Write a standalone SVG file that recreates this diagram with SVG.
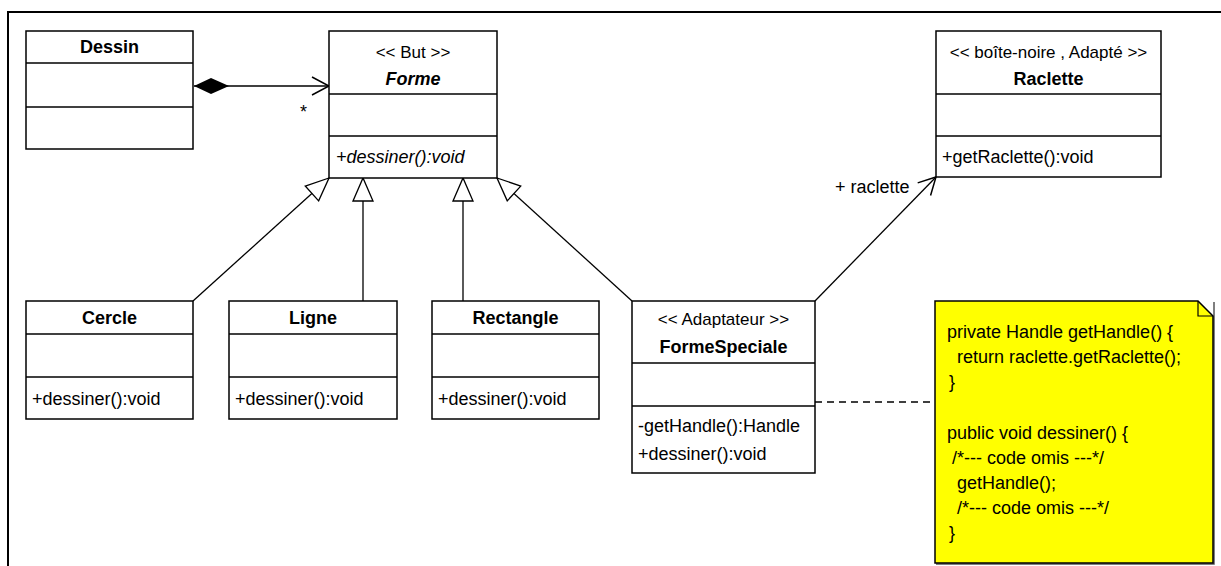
<svg xmlns="http://www.w3.org/2000/svg" width="1221" height="566" viewBox="0 0 1221 566">
  <style>
    .box { fill: #ffffff; stroke: #000000; stroke-width: 1.5; }
    .sep { stroke: #000000; stroke-width: 1.5; }
    .t { font-family: "Liberation Sans", Arial, sans-serif; font-size: 18px; fill: #000000; }
    .name { font-weight: bold; text-anchor: middle; font-size: 18px; }
    .stereo { text-anchor: middle; font-size: 17px; }
    .ital { font-style: italic; }
    .edge { fill: none; stroke: #000000; stroke-width: 1.3; }
    .note { fill: #ffff00; stroke: #000000; stroke-width: 1.5; }
  </style>
  <defs>
    <!-- hollow triangle for generalization -->
    <marker id="gen" markerUnits="userSpaceOnUse" markerWidth="26" markerHeight="26" viewBox="-1 -13 26 26" refX="23" refY="0" orient="auto">
      <path d="M0,-10 L23,0 L0,10 Z" fill="#ffffff" stroke="#000000" stroke-width="1.3"/>
    </marker>
    <!-- open arrow for navigable associations -->
    <marker id="open" markerUnits="userSpaceOnUse" markerWidth="22" markerHeight="22" viewBox="-1 -11 22 22" refX="17" refY="0" orient="auto">
      <path d="M0,-9 L17,0 L0,9" fill="none" stroke="#000000" stroke-width="1.5"/>
    </marker>
    <!-- filled diamond for composition, placed at the start of the line -->
    <marker id="comp" markerUnits="userSpaceOnUse" markerWidth="40" markerHeight="20" viewBox="-1 -10 40 20" refX="0" refY="0" orient="auto">
      <path d="M0,0 L17,-8 L35,0 L17,8 Z" fill="#000000"/>
    </marker>
  </defs>

  <rect width="1221" height="566" fill="#ffffff"/>

  <!-- frame -->
  <path d="M8,566 L8,12 L1221,12" fill="none" stroke="#000000" stroke-width="2"/>

  <!-- connectors -->
  <g id="connectors">
    <line class="edge" x1="194" y1="86" x2="329" y2="86" marker-start="url(#comp)" marker-end="url(#open)"/>
    <text class="t" x="300" y="118" font-size="14">*</text>
    <line class="edge" x1="193" y1="301" x2="329" y2="178" marker-end="url(#gen)"/>
    <line class="edge" x1="363" y1="301" x2="363" y2="178" marker-end="url(#gen)"/>
    <line class="edge" x1="463" y1="301" x2="463" y2="178" marker-end="url(#gen)"/>
    <line class="edge" x1="632" y1="301" x2="497" y2="178" marker-end="url(#gen)"/>
    <line class="edge" x1="815" y1="301" x2="936" y2="177" marker-end="url(#open)"/>
    <text class="t" x="835" y="193" font-size="17">+ raclette</text>
    <line class="edge" x1="815" y1="402" x2="935" y2="402" stroke-dasharray="7,5"/>
  </g>

  <g id="Dessin">
    <rect class="box" x="26" y="31" width="167" height="118"/>
    <line class="sep" x1="26" y1="63" x2="193" y2="63"/>
    <line class="sep" x1="26" y1="107" x2="193" y2="107"/>
    <text class="t name" x="109.5" y="53">Dessin</text>
  </g>

  <g id="Forme">
    <rect class="box" x="329" y="31" width="168" height="147"/>
    <line class="sep" x1="329" y1="94" x2="497" y2="94"/>
    <line class="sep" x1="329" y1="136" x2="497" y2="136"/>
    <text class="t stereo" x="413" y="58">&lt;&lt; But &gt;&gt;</text>
    <text class="t name ital" x="413" y="85">Forme</text>
    <text class="t ital" x="336" y="163">+dessiner():void</text>
  </g>

  <g id="Raclette">
    <rect class="box" x="936" y="31" width="225" height="146"/>
    <line class="sep" x1="936" y1="94" x2="1161" y2="94"/>
    <line class="sep" x1="936" y1="136" x2="1161" y2="136"/>
    <text class="t stereo" x="1048.5" y="58" font-size="18">&lt;&lt; boîte-noire , Adapté &gt;&gt;</text>
    <text class="t name" x="1048.5" y="85">Raclette</text>
    <text class="t" x="942" y="163">+getRaclette():void</text>
  </g>

  <g id="Cercle">
    <rect class="box" x="26" y="301" width="167" height="118"/>
    <line class="sep" x1="26" y1="334" x2="193" y2="334"/>
    <line class="sep" x1="26" y1="377" x2="193" y2="377"/>
    <text class="t name" x="109.5" y="324">Cercle</text>
    <text class="t" x="32" y="405">+dessiner():void</text>
  </g>

  <g id="Ligne">
    <rect class="box" x="229" y="301" width="168" height="118"/>
    <line class="sep" x1="229" y1="334" x2="397" y2="334"/>
    <line class="sep" x1="229" y1="377" x2="397" y2="377"/>
    <text class="t name" x="313" y="324">Ligne</text>
    <text class="t" x="235" y="405">+dessiner():void</text>
  </g>

  <g id="Rectangle">
    <rect class="box" x="432" y="301" width="167" height="118"/>
    <line class="sep" x1="432" y1="334" x2="599" y2="334"/>
    <line class="sep" x1="432" y1="377" x2="599" y2="377"/>
    <text class="t name" x="515.5" y="324">Rectangle</text>
    <text class="t" x="438" y="405">+dessiner():void</text>
  </g>

  <g id="FormeSpeciale">
    <rect class="box" x="632" y="301" width="183" height="172"/>
    <line class="sep" x1="632" y1="363" x2="815" y2="363"/>
    <line class="sep" x1="632" y1="406" x2="815" y2="406"/>
    <text class="t stereo" x="723.5" y="325" font-size="18">&lt;&lt; Adaptateur &gt;&gt;</text>
    <text class="t name" x="723.5" y="353">FormeSpeciale</text>
    <text class="t" x="638" y="432">-getHandle():Handle</text>
    <text class="t" x="638" y="460">+dessiner():void</text>
  </g>

  <g id="note">
    <path d="M936,564 L1214,564 L1214,302" fill="none" stroke="#555555" stroke-width="1.5"/>
    <path class="note" d="M935,301 L1198,301 L1213,316 L1213,563 L935,563 Z"/>
    <path d="M1198,301 L1198,316 L1213,316" fill="none" stroke="#000000" stroke-width="1.2"/>
    <text class="t" x="947" y="338">private Handle getHandle() {</text>
    <text class="t" x="957" y="363">return raclette.getRaclette();</text>
    <text class="t" x="949" y="388">}</text>
    <text class="t" x="947" y="439">public void dessiner() {</text>
    <text class="t" x="952" y="464">/*--- code omis ---*/</text>
    <text class="t" x="957" y="489">getHandle();</text>
    <text class="t" x="957" y="514">/*--- code omis ---*/</text>
    <text class="t" x="949" y="539">}</text>
  </g>
</svg>
